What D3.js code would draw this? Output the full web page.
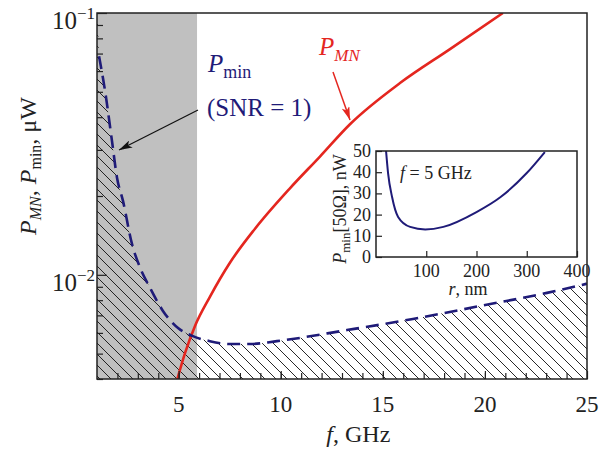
<!DOCTYPE html>
<html>
<head>
<meta charset="utf-8">
<script src="https://cdn.jsdelivr.net/npm/d3@7"></script>
<style>
body{margin:0;background:#fff;}
svg{font-family:"Liberation Serif","DejaVu Serif",serif;}
.frame{fill:none;stroke:#222;stroke-width:1.5;}
.axis path{display:none;}
.axis line{stroke:#222;stroke-width:1.2;}
</style>
</head>
<body>
<div id="plot"></div>
<script>
//main chart data: f in GHz, power in uW
var pminF = [1.1,1.39,1.73,1.98,2.27,2.71,3.11,3.6,4.23,4.97,5.7,6.53,7.51,8.49,9.81,13.24,16.47,19.76,23.04,25],
	pminP = [0.0684,0.0507,0.0326,0.0235,0.0192,0.01315,0.01064,0.00891,0.00728,0.00626,0.00583,0.00558,0.00544,0.00544,0.00558,0.00615,0.00678,0.0076,0.00853,0.00925];
var pmnF = [4.92,5.31,5.8,6.53,7.51,8.74,10.45,11.92,13.39,15.84,18.29,20.88],
	pmnP = [0.00396,0.00502,0.00638,0.00824,0.01112,0.015,0.0214,0.0283,0.0376,0.054,0.0728,0.1];
var grayBand = [1,5.9];
var xMajor = [5,10,15,20,25],
	yMajor = [0.1,0.01], yMajorExp = ['−1','−2'];

//inset data: r in nm, Pmin[50 Ohm] in nW at f = 5 GHz
var insetR = [20,24,32,44,68,98,134,200,248,300,336],
	insetP = [50,39.6,28.3,18.9,14.2,13.0,14.2,21.2,28.3,39.6,49.5];
var insetXTicks = [100,200,300,400],
	insetYTicks = [0,10,20,30,40,50];

var W = 615, H = 453;
var m = {t:13,r:28,b:74,l:97},
	w = W - m.l - m.r,
	h = H - m.t - m.b;

var NAVY = '#1f1b78', RED = '#e4261f';

var svg = d3.select('#plot').append('svg')
	.attr('width',W).attr('height',H);

var defs = svg.append('defs');
var hatch = defs.append('pattern')
	.attr('id','hatch')
	.attr('patternUnits','userSpaceOnUse')
	.attr('width',11).attr('height',11);
hatch.append('path')
	.attr('d','M-1,-1 L12,12 M-6,5 L1,12 M10,-1 L17,6')
	.attr('stroke','#111').attr('stroke-width',0.9);
defs.append('clipPath').attr('id','clip')
	.append('rect').attr('width',w).attr('height',h);

var plot = svg.append('g').attr('transform','translate('+m.l+','+m.t+')');

var scaleX = d3.scaleLinear().domain([1,25]).range([0,w]),
	scaleY = d3.scaleLog().domain([0.004,0.1]).range([h,0]);

var inner = plot.append('g').attr('clip-path','url(#clip)');

//gray band
inner.append('rect')
	.attr('x',scaleX(grayBand[0]))
	.attr('width',scaleX(grayBand[1]) - scaleX(grayBand[0]))
	.attr('y',0).attr('height',h)
	.attr('fill','#c0c0c0');

var pminData = pminF.map(function(f,i){return {f:f,p:pminP[i]}}),
	pmnData = pmnF.map(function(f,i){return {f:f,p:pmnP[i]}});

//hatched area under Pmin, extended to the left edge
var area = d3.area()
	.curve(d3.curveMonotoneX)
	.x(function(d){return scaleX(d.f)})
	.y0(h)
	.y1(function(d){return scaleY(d.p)});
var hatchData = [{f:1,p:0.2}].concat(pminData);
inner.append('path')
	.datum(hatchData)
	.attr('d',area)
	.attr('fill','url(#hatch)');

var line = d3.line()
	.curve(d3.curveMonotoneX)
	.x(function(d){return scaleX(d.f)})
	.y(function(d){return scaleY(d.p)});

inner.append('path')
	.datum(pmnData)
	.attr('d',line)
	.attr('fill','none')
	.attr('stroke',RED)
	.attr('stroke-width',2.6);

inner.append('path')
	.datum(pminData)
	.attr('d',line)
	.attr('fill','none')
	.attr('stroke',NAVY)
	.attr('stroke-width',2.6)
	.attr('stroke-dasharray','13,7');

//axes with inward ticks
plot.append('g').attr('class','axis')
	.attr('transform','translate(0,'+h+')')
	.call(d3.axisBottom(scaleX).tickValues(d3.range(2,25)).tickSize(-6).tickFormat(''));
plot.append('g').attr('class','axis')
	.attr('transform','translate(0,'+h+')')
	.call(d3.axisBottom(scaleX).tickValues(xMajor).tickSize(-8).tickFormat(''));

var yMinor = [];
[0.001,0.01].forEach(function(dec){
	d3.range(2,10).forEach(function(k){
		var v = k*dec;
		if(v>=0.004 && v<0.1) yMinor.push(v);
	});
});
plot.append('g').attr('class','axis')
	.call(d3.axisLeft(scaleY).tickValues(yMinor).tickSize(-6).tickFormat(''));
plot.append('g').attr('class','axis')
	.call(d3.axisLeft(scaleY).tickValues(yMajor).tickSize(-10).tickFormat(''));

plot.append('rect').attr('class','frame')
	.attr('width',w).attr('height',h);

//tick labels
plot.selectAll('.xlab').data(xMajor).enter()
	.append('text').attr('class','xlab')
	.attr('x',function(d){return scaleX(d)})
	.attr('y',h+33)
	.attr('text-anchor','middle')
	.attr('font-size',23)
	.attr('fill','#222')
	.text(function(d){return d});

var yl = plot.selectAll('.ylab').data(yMajor).enter()
	.append('text').attr('class','ylab')
	.attr('x',-2)
	.attr('y',function(d){return scaleY(d)+16})
	.attr('text-anchor','end')
	.attr('font-size',25)
	.attr('fill','#222');
yl.append('tspan').text('10');
yl.append('tspan').attr('font-size',17).attr('dy',-10)
	.text(function(d,i){return yMajorExp[i]});

//axis titles
var xt = svg.append('text')
	.attr('x',m.l + scaleX(13.8)).attr('y',442)
	.attr('text-anchor','middle').attr('font-size',24).attr('fill','#222');
xt.append('tspan').attr('font-style','italic').text('f');
xt.append('tspan').text(', GHz');

var yt = svg.append('text')
	.attr('transform','translate(36,166) rotate(-90)')
	.attr('text-anchor','middle').attr('font-size',24).attr('fill','#222');
yt.append('tspan').attr('font-style','italic').text('P');
yt.append('tspan').attr('font-style','italic').attr('font-size',16).attr('dy',5).text('MN');
yt.append('tspan').attr('dy',-5).text(', ');
yt.append('tspan').attr('font-style','italic').text('P');
yt.append('tspan').attr('font-size',16).attr('dy',5).text('min');
yt.append('tspan').attr('dy',-5).text(', μW');

//annotations
var lab1 = svg.append('text').attr('x',208).attr('y',72)
	.attr('font-size',25).attr('fill',NAVY);
lab1.append('tspan').attr('font-style','italic').text('P');
lab1.append('tspan').attr('font-size',18).attr('dy',6).text('min');
svg.append('text').attr('x',207).attr('y',116)
	.attr('font-size',25).attr('fill',NAVY).text('(SNR = 1)');

var lab2 = svg.append('text').attr('x',319).attr('y',55)
	.attr('font-size',25).attr('fill',RED).attr('font-style','italic');
lab2.append('tspan').text('P');
lab2.append('tspan').attr('font-size',17).attr('dy',6).text('MN');

defs.append('marker').attr('id','arrB')
	.attr('viewBox','0 0 10 6').attr('refX',10).attr('refY',3)
	.attr('markerWidth',16).attr('markerHeight',8).attr('markerUnits','userSpaceOnUse')
	.attr('orient','auto')
	.append('path').attr('d','M0,0 L10,3 L0,6 L2.5,3 Z').attr('fill','#111');
defs.append('marker').attr('id','arrR')
	.attr('viewBox','0 0 10 6').attr('refX',10).attr('refY',3)
	.attr('markerWidth',15).attr('markerHeight',8).attr('markerUnits','userSpaceOnUse')
	.attr('orient','auto')
	.append('path').attr('d','M0,0 L10,3 L0,6 L2.5,3 Z').attr('fill',RED);

svg.append('line').attr('x1',198).attr('y1',110).attr('x2',119).attr('y2',150)
	.attr('stroke','#111').attr('stroke-width',1.2).attr('marker-end','url(#arrB)');
svg.append('line').attr('x1',333).attr('y1',72).attr('x2',350).attr('y2',120)
	.attr('stroke',RED).attr('stroke-width',1.5).attr('marker-end','url(#arrR)');

//inset
var im = {l:376,t:151,w:201,h:106};
var inset = svg.append('g').attr('transform','translate('+im.l+','+im.t+')');
var ix = d3.scaleLinear().domain([0,400]).range([0,im.w]),
	iy = d3.scaleLinear().domain([0,50]).range([im.h,0]);
defs.append('clipPath').attr('id','iclip')
	.append('rect').attr('width',im.w).attr('height',im.h);

inset.append('rect').attr('width',im.w).attr('height',im.h).attr('fill','#fff');
inset.append('path')
	.datum(insetR.map(function(r,i){return {r:r,p:insetP[i]}}))
	.attr('clip-path','url(#iclip)')
	.attr('d',d3.line().curve(d3.curveMonotoneX)
		.x(function(d){return ix(d.r)})
		.y(function(d){return iy(d.p)}))
	.attr('fill','none').attr('stroke',NAVY).attr('stroke-width',2);

inset.append('g').attr('class','axis')
	.attr('transform','translate(0,'+im.h+')')
	.call(d3.axisBottom(ix).tickValues(insetXTicks).tickSize(-6).tickFormat(''));
inset.append('g').attr('class','axis')
	.call(d3.axisLeft(iy).tickValues(insetYTicks).tickSize(-6).tickFormat(''));
inset.append('rect').attr('class','frame').attr('width',im.w).attr('height',im.h);

inset.selectAll('.ixl').data(insetXTicks).enter()
	.append('text').attr('class','ixl')
	.attr('x',function(d){return ix(d)}).attr('y',im.h+20)
	.attr('text-anchor','middle').attr('font-size',18).attr('fill','#222')
	.text(function(d){return d});
inset.selectAll('.iyl').data(insetYTicks).enter()
	.append('text').attr('class','iyl')
	.attr('x',-5).attr('y',function(d){return iy(d)+6})
	.attr('text-anchor','end').attr('font-size',18).attr('fill','#222')
	.text(function(d){return d});

var ixt = inset.append('text').attr('x',ix(183)).attr('y',im.h+38)
	.attr('text-anchor','middle').attr('font-size',18).attr('fill','#222');
ixt.append('tspan').attr('font-style','italic').text('r');
ixt.append('tspan').text(', nm');

var iyt = svg.append('text')
	.attr('transform','translate(346,209) rotate(-90)')
	.attr('text-anchor','middle').attr('font-size',18).attr('fill','#222');
iyt.append('tspan').attr('font-style','italic').text('P');
iyt.append('tspan').attr('font-size',13).attr('dy',4).text('min');
iyt.append('tspan').attr('dy',-4).text('[50Ω], nW');

var ift = inset.append('text').attr('x',24).attr('y',28)
	.attr('font-size',18).attr('fill','#222');
ift.append('tspan').attr('font-style','italic').text('f');
ift.append('tspan').text(' = 5 GHz');
</script>
</body>
</html>
